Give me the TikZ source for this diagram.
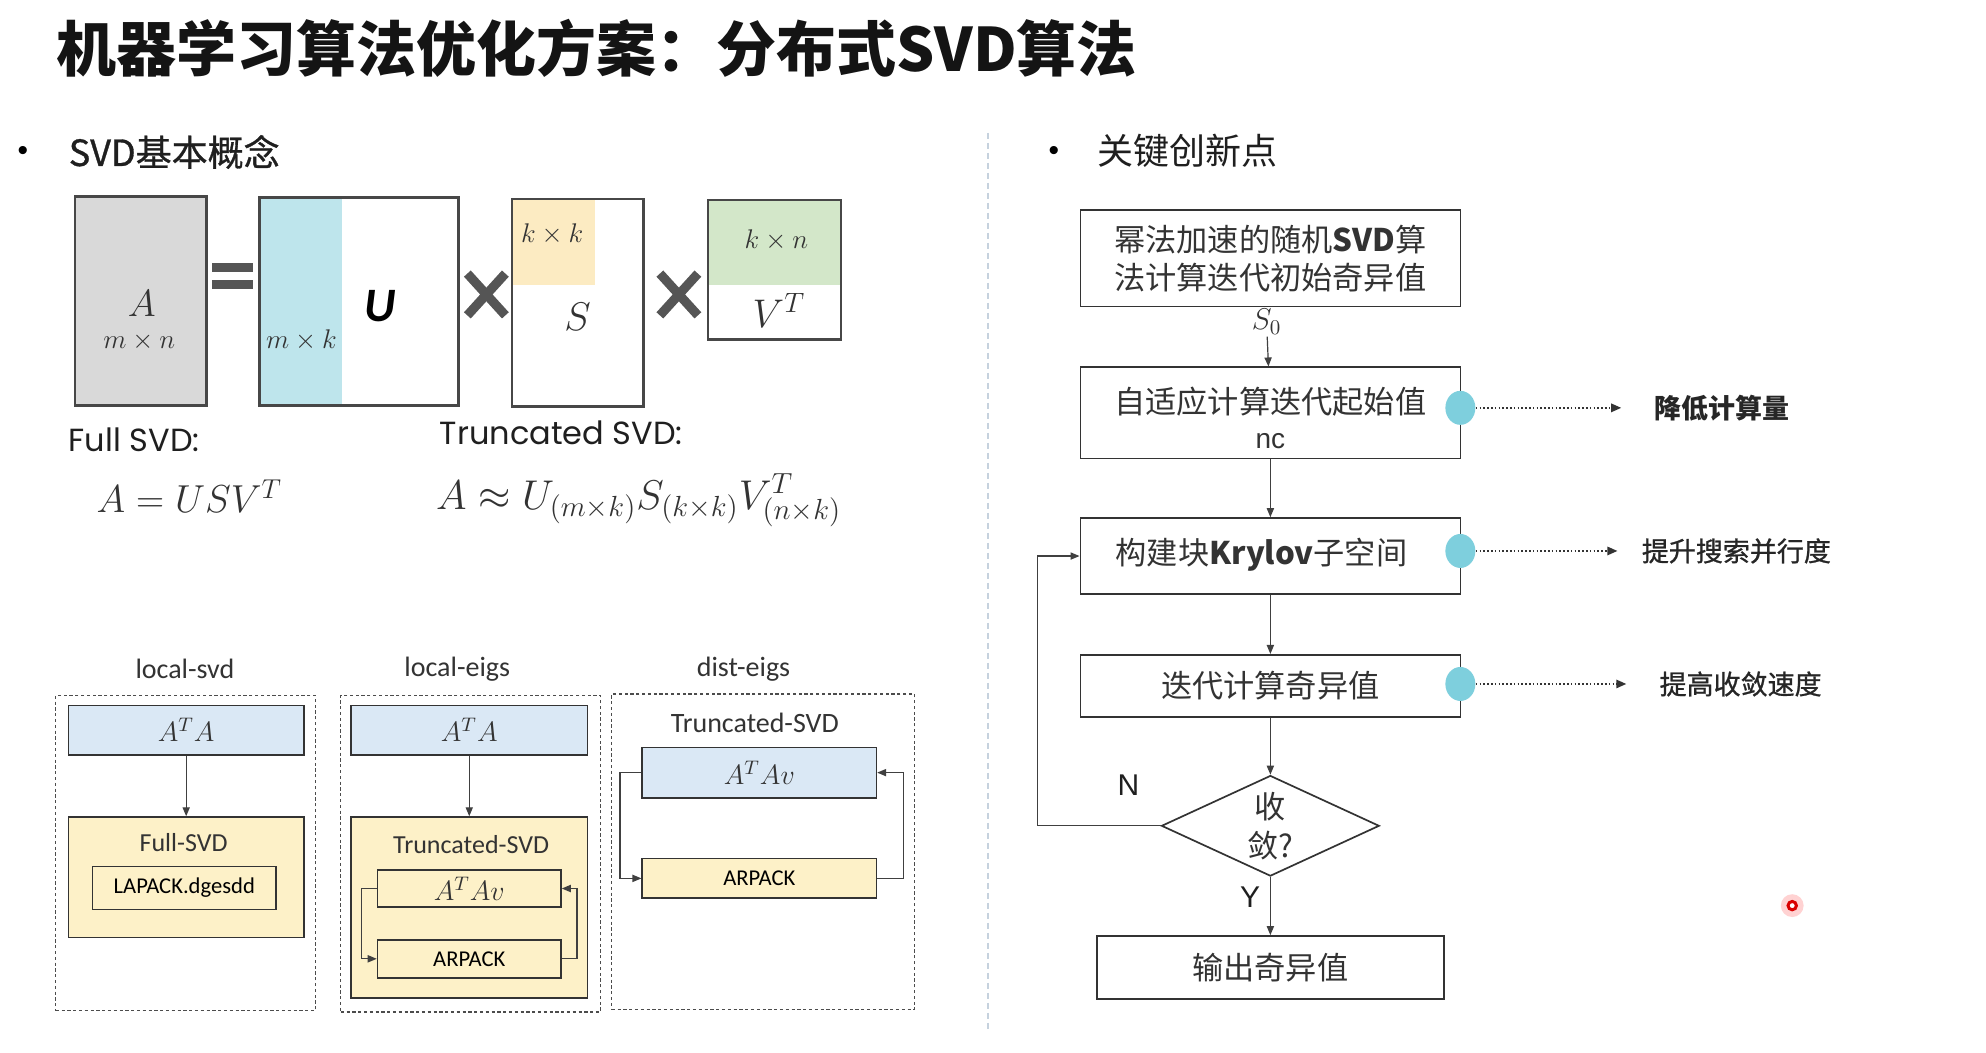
\RequirePackage{fix-cm}
\documentclass[tikz,border=0pt]{standalone}
\usepackage{fontspec}
\setmainfont{Liberation Sans}
\newfontfamily\cjk{Noto Sans CJK SC}
\newfontfamily\cjkmed[FakeBold=0.9]{Noto Sans CJK SC}
\newfontfamily\popp{Poppins}
\newfontfamily\carl{Carlito}
\newfontfamily\arialf{Liberation Sans}
\usetikzlibrary{arrows.meta,shapes.geometric}
\definecolor{colA}{HTML}{D9D9D9}
\definecolor{colU}{HTML}{BEE5EC}
\definecolor{colS}{HTML}{FCEBC2}
\definecolor{colV}{HTML}{D3E7C9}
\definecolor{colLB}{HTML}{DAE8F5}
\definecolor{colLY}{HTML}{FDF1C8}
\definecolor{colC}{HTML}{7ECFDD}
\definecolor{colDk}{HTML}{333333}
\definecolor{colX}{HTML}{555555}
\definecolor{colSep}{HTML}{C6D2DE}
\newcommand{\mkbox}[7]{%
  \pgfmathsetmacro\mybw{(#5-#3)*0.6333}%
  \pgfmathsetmacro\mybh{(#6-#4)*0.6333}%
  \node[#2, minimum width=\mybw pt, minimum height=\mybh pt] (#1) at ({(#3+#5)/2},{(#4+#6)/2}) {#7};}
\begin{document}
\begin{tikzpicture}[x=0.6333pt,y=-0.6333pt,
  mbox/.style={draw=colDk!90, line width=1.2pt, inner sep=0pt},
  sbox/.style={draw=colDk, line width=0.7pt, inner sep=0pt},
  dbox/.style={draw=black!70, dash pattern=on 1.6pt off 1.3pt, line width=0.7pt, inner sep=0pt},
  fcbox/.style={draw=colDk, line width=0.85pt, inner sep=0pt, align=center, text=colDk, font=\cjk\fontsize{15.6}{19}\selectfont},
  fctext/.style={inner sep=0pt, text=colDk, font=\cjk\fontsize{15.6}{19}\selectfont},
  mathbig/.style={inner sep=0pt, text=colDk, font=\fontsize{20}{22}\selectfont},
  mathsm/.style={inner sep=0pt, text=colDk, font=\fontsize{13.5}{15}\selectfont},
  mathbx/.style={inner sep=0pt, text=colDk, font=\fontsize{14}{16}\selectfont},
  cal/.style={inner sep=0pt, text=colDk, font=\carl\fontsize{13}{15}\selectfont},
  arr/.style={-{Triangle[length=4.5pt,width=3.6pt]}, line width=0.6pt, draw=black!75},
  dotarr/.style={-{Triangle[length=5pt,width=4.2pt]}, dash pattern=on 0.8pt off 1.1pt, line width=0.8pt, draw=black!80},
  dot/.style={ellipse, fill=colC, inner sep=0pt, minimum width=15pt, minimum height=17pt},
  rlab/.style={anchor=west, inner sep=0pt, text=black!85, font=\cjkmed\fontsize{13.5}{15}\selectfont},
  xmark/.style={line width=4.6pt, draw=colX}
]
\fill[white] (0,0) rectangle (1568,831);
\useasboundingbox (0,0) rectangle (1568,831);

% title
\node[anchor=west, inner sep=0pt, text=black!92, font=\cjk\bfseries\fontsize{30}{36}\selectfont] (title) at (44,38) {机器学习算法优化方案：分布式SVD算法};

% left heading
\node[inner sep=0pt, font=\arialf\fontsize{15}{17}\selectfont] (bul1) at (18,121) {•};
\node[anchor=west, inner sep=0pt, text=black!88, font=\cjkmed\fontsize{18}{20}\selectfont] (h1) at (54,120) {SVD基本概念};

% matrices
\mkbox{mA}{mbox, fill=colA}{59}{155}{163}{320}{}
\node[mathbig, font=\fontsize{19}{21}\selectfont] (lA) at (112,240) {$A$};
\node[mathsm] (lmn) at (110,270) {$m\times n$};

\fill[colX] (167,208) rectangle (200,215);
\fill[colX] (167,221) rectangle (200,228);
\coordinate (eq) at (183,218);

\fill[colU] (205,156) rectangle (270,320);
\mkbox{mU}{mbox}{205}{156}{362}{320}{}
\node[inner sep=0pt, text=black, font=\carl\bfseries\itshape\fontsize{24}{26}\selectfont] (lU) at (300,242) {U};
\node[mathsm] (lmk) at (238,269) {$m\times k$};

\draw[xmark] (369,216) -- (399,249);
\draw[xmark] (399,216) -- (369,249);

\fill[colS] (404,157) rectangle (470,225);
\mkbox{mS}{mbox}{404}{157}{508}{321}{}
\node[mathsm] (lkk) at (436,185) {$k\times k$};
\node[mathbig] (lS) at (456,250) {$S$};

\draw[xmark] (521,216) -- (551,249);
\draw[xmark] (551,216) -- (521,249);

\fill[colV] (559,158) rectangle (664,225);
\mkbox{mV}{mbox}{559}{158}{664}{268}{}
\node[mathsm] (lkn) at (613,190) {$k\times n$};
\node[mathbig] (lV) at (615,245) {$V^T$};

% formulas
\node[anchor=west, inner sep=0pt, text=black!88, font=\popp\fontsize{16}{18}\selectfont] (full) at (54,347) {Full SVD:};
\node[anchor=west, inner sep=0pt, text=black!88, font=\popp\fontsize{16}{18}\selectfont] (trunc) at (347,342) {Truncated SVD:};
\node[anchor=west, mathbig, font=\fontsize{19.5}{22}\selectfont] (f1) at (76,392) {$A = USV^T$};
\node[anchor=west, mathbig, font=\fontsize{20.8}{23}\selectfont] (f2) at (344,395) {$A \approx U_{(m\times k)}S_{(k\times k)}V^T_{(n\times k)}$};

% bottom-left diagrams
\node[cal, font=\carl\fontsize{14}{16}\selectfont] (t1) at (146,528) {local-svd};
\node[cal, font=\carl\fontsize{14}{16}\selectfont] (t2) at (361,528) {local-eigs};
\node[cal, font=\carl\fontsize{14}{16}\selectfont] (t3) at (587,528) {dist-eigs};

\mkbox{d1}{dbox}{44}{549}{249}{798}{}
\mkbox{d2}{dbox}{269}{549}{474}{799}{}
\mkbox{d3}{dbox}{483}{548}{722}{797}{}

% local-svd
\mkbox{ata1}{sbox, fill=colLB}{54}{557}{240}{596}{}
\node[mathbx] at (ata1) {$A^{T}A$};
\mkbox{fsvd}{sbox, fill=colLY}{54}{645}{240}{740}{}
\node[cal] (fsvdl) at (145,665) {Full-SVD};
\mkbox{lap}{sbox, fill=colLY}{73}{684}{218}{718}{\carl\fontsize{11.3}{13}\selectfont LAPACK.dgesdd}
\draw[arr] (ata1) -- (fsvd);

% local-eigs
\mkbox{ata2}{sbox, fill=colLB}{277}{557}{464}{596}{}
\node[mathbx] at (ata2) {$A^{T}A$};
\mkbox{tsvd2}{sbox, fill=colLY}{277}{645}{464}{788}{}
\node[cal] (tsvd2l) at (372,667) {Truncated-SVD};
\mkbox{atav2}{sbox, fill=colLY}{298}{687}{443}{716}{}
\node[mathbx] at (atav2) {$A^{T}Av$};
\mkbox{arp2}{sbox, fill=colLY}{298}{742}{443}{772}{\carl\fontsize{11.3}{13}\selectfont ARPACK}
\draw[arr] (ata2) -- (tsvd2);
\draw[arr] (atav2.west) -- ++(-12,0) |- (arp2.west);
\draw[arr] (arp2.east) -- ++(12,0) |- (atav2.east);

% dist-eigs
\node[cal, font=\carl\fontsize{14}{16}\selectfont] (tsvd3l) at (596,571) {Truncated-SVD};
\mkbox{atav3}{sbox, fill=colLB}{507}{590}{692}{630}{}
\node[mathbx] at (atav3) {$A^{T}Av$};
\mkbox{arp3}{sbox, fill=colLY}{507}{678}{692}{709}{\carl\fontsize{11.3}{13}\selectfont ARPACK}
\draw[arr] (atav3.west) -- ++(-17,0) |- (arp3.west);
\draw[arr] (arp3.east) -- ++(21,0) |- (atav3.east);

% separator
\draw[colSep, dash pattern=on 3pt off 2pt, line width=0.6pt] (780,105) -- (780,815);

% right heading
\node[inner sep=0pt, font=\arialf\fontsize{15}{17}\selectfont] (bul2) at (832,121) {•};
\node[anchor=west, inner sep=0pt, text=black!88, font=\cjk\fontsize{18}{20}\selectfont] (h2) at (866,119) {关键创新点};

% flowchart
\mkbox{fb1}{fcbox}{853}{166}{1153}{242}{幂法加速的随机\textbf{SVD}算\\法计算迭代初始奇异值}
\node[inner sep=1pt, text=colDk, font=\fontsize{15}{17}\selectfont] (s0) at (1000,254) {$S_0$};
\mkbox{fb2}{fcbox}{853}{290}{1153}{362}{}
\node[fctext] (fb2a) at (1003,317) {自适应计算迭代起始值};
\node[inner sep=0pt, text=colDk, font=\arialf\fontsize{14}{16}\selectfont] (fb2b) at (1003,348) {nc};
\mkbox{fb3}{fcbox}{853}{409}{1153}{469}{}
\node[fctext] (fb3a) at (996,438) {构建块\textbf{Krylov}子空间};
\mkbox{fb4}{fcbox}{853}{517}{1153}{566}{迭代计算奇异值}
\node[diamond, draw=colDk, line width=0.85pt, inner sep=0pt, minimum width=108.9pt, minimum height=50.3pt] (dia) at (1003,652) {};
\node[fctext, align=center, font=\cjk\fontsize{15.6}{19.6}\selectfont] (diat) at (1003,652) {收\\敛?};
\mkbox{fb5}{fcbox}{866}{739}{1140}{789}{输出奇异值}

\draw[arr] (s0) -- (fb2);
\draw[arr] (fb2) -- (fb3);
\draw[arr] (fb3) -- (fb4);
\draw[arr] (fb4) -- (dia);
\draw[arr] (dia) -- (fb5);
\draw[arr] (dia.west) -- ++(-97,0) |- (fb3.west);
\node[inner sep=0pt, text=black!88, font=\arialf\fontsize{15}{17}\selectfont] (lN) at (891,620) {N};
\node[inner sep=0pt, text=black!88, font=\arialf\fontsize{15}{17}\selectfont] (lY) at (987,708) {Y};

% innovation markers
\node[dot] (c1) at (1153,322) {};
\node[dot] (c2) at (1153,435) {};
\node[dot] (c3) at (1153,540) {};
\coordinate (e1) at (1280,322);
\coordinate (e2) at (1277,435);
\coordinate (e3) at (1284,540);
\draw[dotarr] (c1.east) -- (e1);
\draw[dotarr] (c2.east) -- (e2);
\draw[dotarr] (c3.east) -- (e3);
\node[rlab, font=\cjk\bfseries\fontsize{13.5}{15}\selectfont] (r1) at (1306,322) {降低计算量};
\node[rlab] (r2) at (1296,435) {提升搜索并行度};
\node[rlab] (r3) at (1310,540) {提高收敛速度};

% pointer dot
\fill[red!25, opacity=0.7] (1415,715) circle (9);
\draw[red!85!black, line width=1.5pt, fill=white] (1415,715) circle (3.3);
\end{tikzpicture}
\end{document}
